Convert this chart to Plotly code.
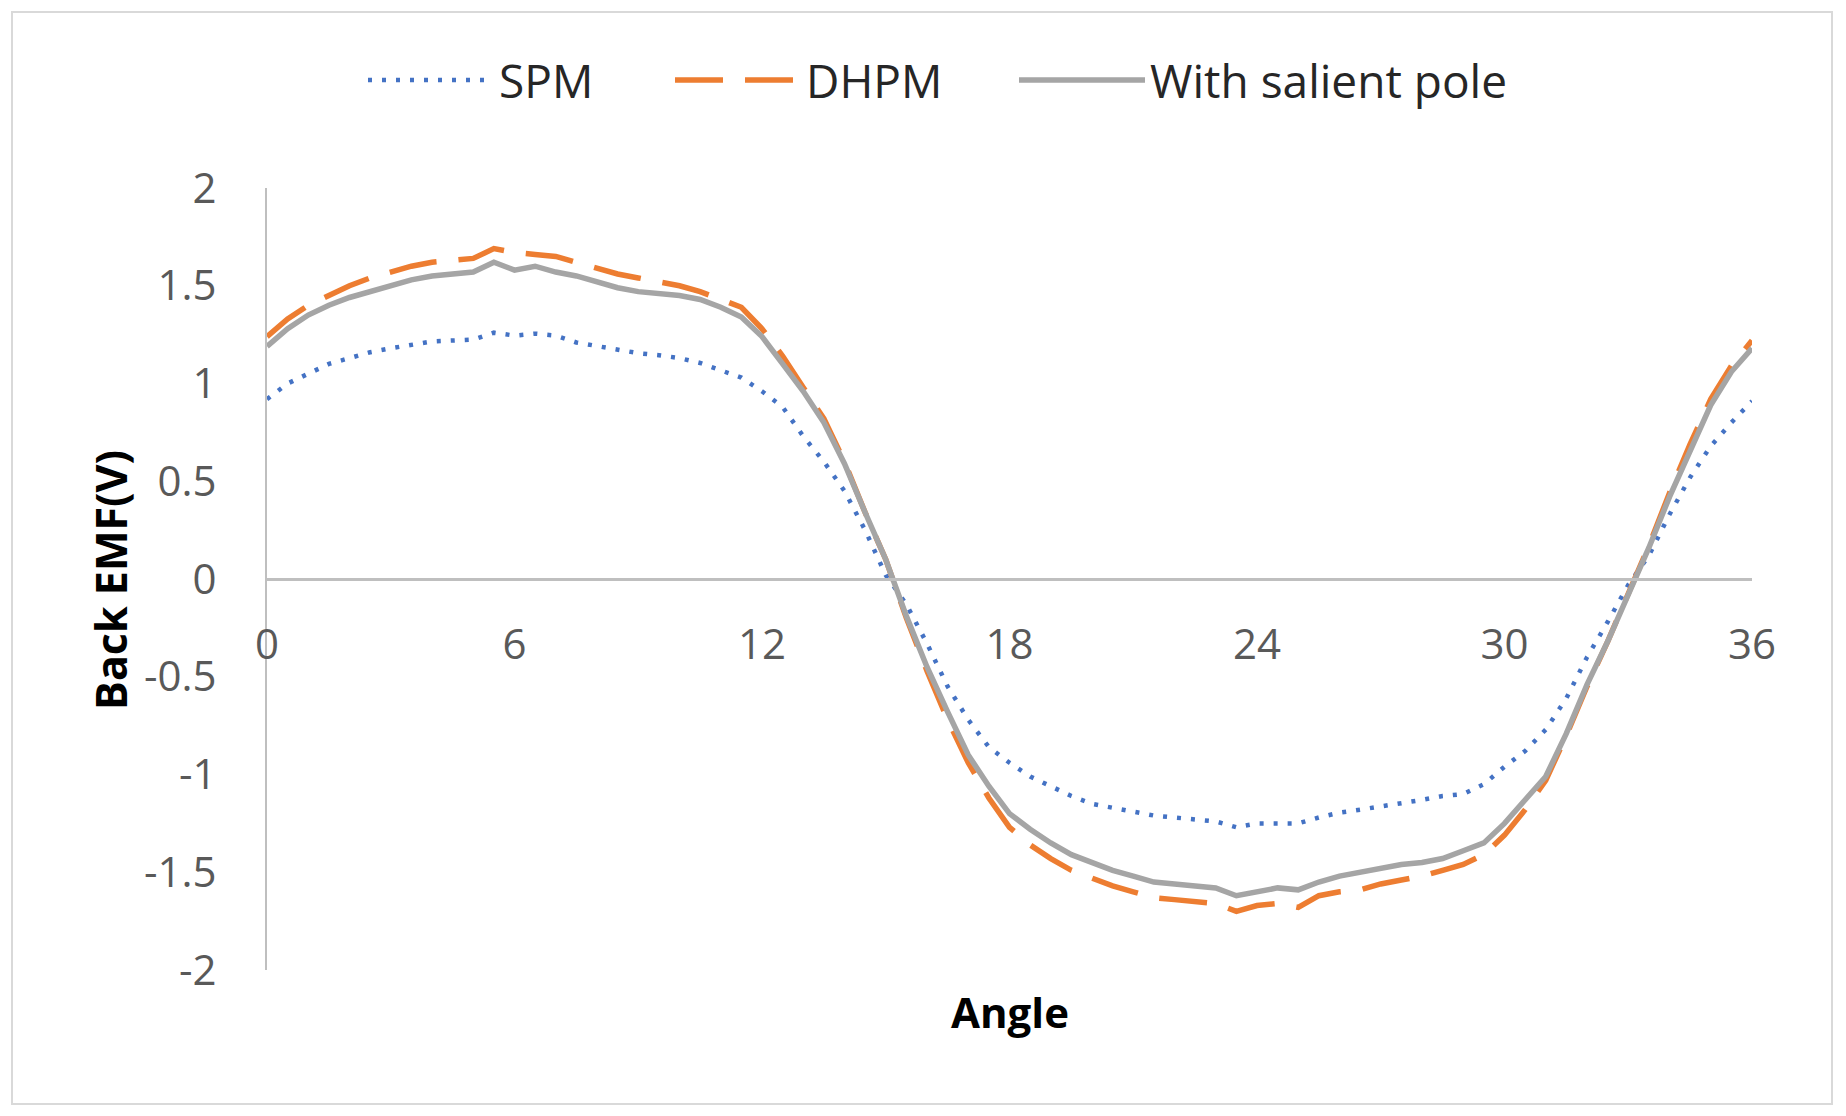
import plotly.graph_objects as go

angle = [i * 0.5 for i in range(73)]

spm = [0.92, 1.00, 1.05, 1.10, 1.13, 1.16, 1.18, 1.20, 1.215, 1.22, 1.225, 1.26,
       1.245, 1.255, 1.245, 1.21, 1.19, 1.17, 1.155, 1.145, 1.13, 1.105, 1.07, 1.03,
       0.96, 0.88, 0.73, 0.60, 0.45, 0.25, 0.02, -0.13, -0.33, -0.55, -0.72, -0.86,
       -0.94, -1.01, -1.06, -1.11, -1.15, -1.17, -1.19, -1.21, -1.22, -1.23, -1.24, -1.27,
       -1.25, -1.25, -1.25, -1.22, -1.195, -1.18, -1.165, -1.15, -1.13, -1.11, -1.10, -1.05,
       -0.96, -0.88, -0.77, -0.61, -0.40, -0.22, -0.03, 0.12, 0.33, 0.52, 0.68, 0.80, 0.91]

dhpm = [1.24, 1.33, 1.40, 1.45, 1.50, 1.54, 1.57, 1.60, 1.62, 1.63, 1.64, 1.69,
        1.67, 1.66, 1.65, 1.62, 1.59, 1.56, 1.54, 1.52, 1.50, 1.47, 1.43, 1.39,
        1.28, 1.14, 0.98, 0.82, 0.60, 0.34, 0.10, -0.20, -0.47, -0.72, -0.94, -1.12,
        -1.27, -1.36, -1.43, -1.49, -1.53, -1.57, -1.60, -1.63, -1.64, -1.65, -1.66, -1.70,
        -1.67, -1.66, -1.68, -1.62, -1.60, -1.59, -1.56, -1.54, -1.52, -1.49, -1.46, -1.41,
        -1.31, -1.18, -1.03, -0.80, -0.55, -0.32, -0.08, 0.17, 0.44, 0.69, 0.92, 1.09, 1.22]

salient = [1.19, 1.28, 1.35, 1.40, 1.44, 1.47, 1.50, 1.53, 1.55, 1.56, 1.57, 1.62,
           1.58, 1.60, 1.57, 1.55, 1.52, 1.49, 1.47, 1.46, 1.45, 1.43, 1.39, 1.34,
           1.24, 1.10, 0.96, 0.80, 0.59, 0.34, 0.10, -0.19, -0.45, -0.68, -0.90, -1.06,
           -1.20, -1.28, -1.35, -1.41, -1.45, -1.49, -1.52, -1.55, -1.56, -1.57, -1.58, -1.62,
           -1.60, -1.58, -1.59, -1.55, -1.52, -1.50, -1.48, -1.46, -1.45, -1.43, -1.39, -1.35,
           -1.25, -1.13, -1.01, -0.79, -0.54, -0.32, -0.08, 0.16, 0.42, 0.66, 0.89, 1.06, 1.18]

x_ticks = [0, 6, 12, 18, 24, 30, 36]
y_ticks = [-2, -1.5, -1, -0.5, 0, 0.5, 1, 1.5, 2]
y_tick_text = ["-2", "-1.5", "-1", "-0.5", "0", "0.5", "1", "1.5", "2"]

W, H = 1846, 1116
OFF = 8  # page body margin offset
PL, PR, PT, PB = 267 - OFF, 1752 - OFF, 188 - OFF, 970 - OFF
L, R, T, B = PL, W - PR, PT, H - PB
pw, ph = PR - PL, PB - PT

def px(xp):
    return (xp - OFF - PL) / pw

def py(yp):
    return (PB - (yp - OFF)) / ph

fig = go.Figure()
fig.add_trace(go.Scatter(x=angle, y=spm, name="SPM", mode="lines", legend="legend",
                         line=dict(color="#4472C4", width=4.5, dash="4px,10px")))
fig.add_trace(go.Scatter(x=angle, y=dhpm, name="DHPM", mode="lines", legend="legend2",
                         line=dict(color="#ED7D31", width=5.5, dash="48px,22px")))
fig.add_trace(go.Scatter(x=angle, y=salient, name="With salient pole", mode="lines",
                         legend="legend3", line=dict(color="#A5A5A5", width=5.5)))

tickfont = dict(family="Open Sans", size=42, color="#595959")
legfont = dict(family="Open Sans", size=46, color="#262626")

def leg(xp):
    return dict(orientation="h", x=px(xp), xanchor="left", y=py(80), yanchor="middle",
                font=legfont, itemwidth=126, bgcolor="rgba(0,0,0,0)")

fig.update_layout(
    width=W, height=H,
    margin=dict(l=L, r=R, t=T, b=B, autoexpand=False),
    paper_bgcolor="white", plot_bgcolor="white",
    showlegend=True,
    legend=leg(363), legend2=leg(670), legend3=leg(1014),
    xaxis=dict(range=[0, 36], tickvals=x_ticks, ticktext=[str(v) for v in x_ticks],
               showgrid=False, zeroline=False, showline=True, linecolor="#BFBFBF", linewidth=3,
               anchor="free", position=0.5, ticks="", tickfont=tickfont,
               ticklabelstandoff=28),
    yaxis=dict(range=[-2, 2], tickvals=y_ticks, ticktext=y_tick_text,
               showgrid=False, zeroline=False, showline=True, linecolor="#BFBFBF", linewidth=2,
               ticks="", tickfont=tickfont, ticklabelstandoff=40),
    annotations=[
        dict(text="<b>Angle</b>", xref="paper", yref="paper", x=px(1010), y=py(1012),
             xanchor="center", yanchor="middle", showarrow=False,
             font=dict(family="Open Sans", size=42, color="#000000")),
        dict(text="<b>Back EMF(V)</b>", xref="paper", yref="paper", x=px(110), y=py(580),
             xanchor="center", yanchor="middle", showarrow=False, textangle=-90,
             font=dict(family="Open Sans", size=43, color="#000000")),
    ],
    shapes=[dict(type="rect", xref="paper", yref="paper", x0=px(12), x1=px(1832),
                 y0=py(1104), y1=py(12), line=dict(color="#D9D9D9", width=2),
                 fillcolor="rgba(0,0,0,0)", layer="below")],
)

fig.write_html("out.html")
